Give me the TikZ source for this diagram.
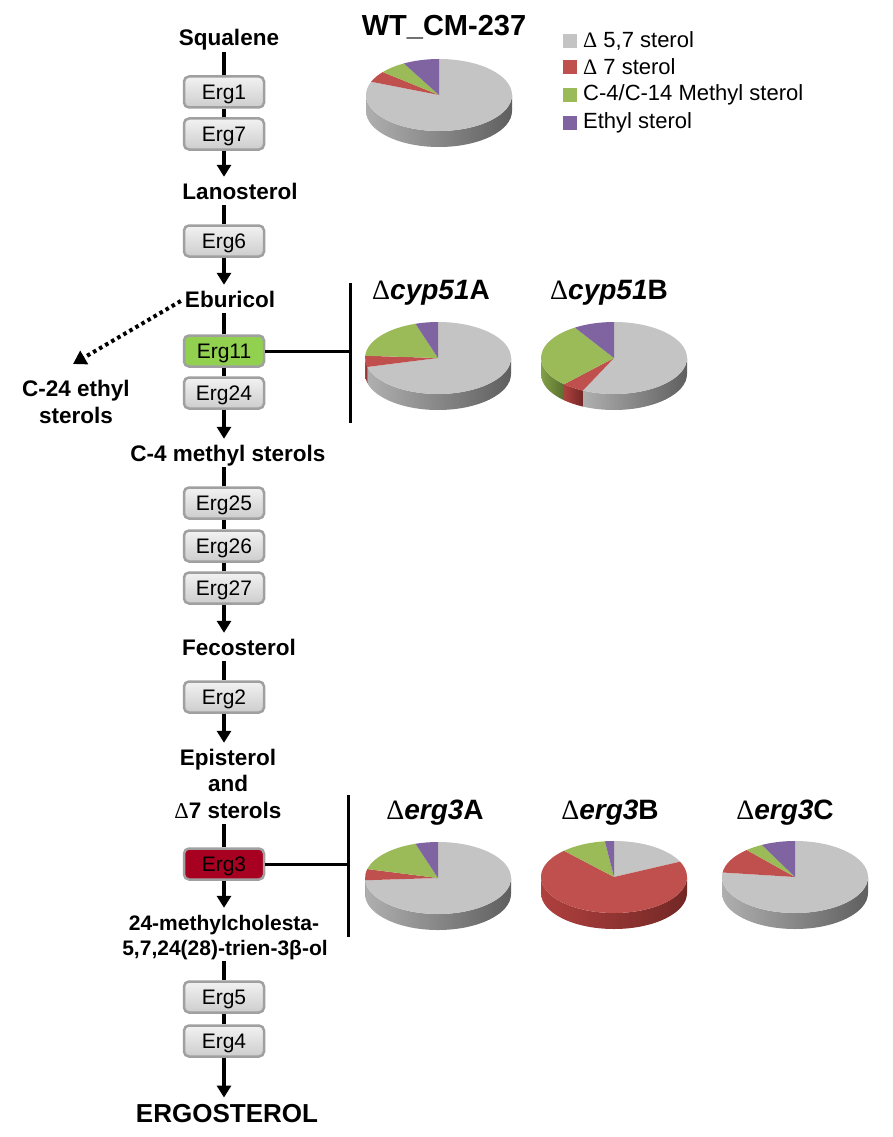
\documentclass[tikz,border=0pt]{standalone}
\usepackage{fontspec}
\setmainfont{Liberation Sans}
\newfontfamily\dfont{Liberation Serif}
\usetikzlibrary{arrows.meta}
\definecolor{pgray}{RGB}{196,196,196}
\definecolor{pgrayL}{RGB}{175,175,175}
\definecolor{pgrayR}{RGB}{95,95,95}
\definecolor{pred}{RGB}{192,80,77}
\definecolor{predL}{RGB}{175,64,62}
\definecolor{predR}{RGB}{115,40,38}
\definecolor{pgreen}{RGB}{155,187,89}
\definecolor{pgreenL}{RGB}{130,160,70}
\definecolor{pgreenR}{RGB}{90,110,48}
\definecolor{ppurple}{RGB}{128,100,162}
\definecolor{ppurpleL}{RGB}{108,82,138}
\definecolor{ppurpleR}{RGB}{72,56,98}
\definecolor{boxborder}{RGB}{160,160,160}
\definecolor{boxtop}{RGB}{242,242,242}
\definecolor{boxbot}{RGB}{205,205,205}
\definecolor{ergreen}{RGB}{146,208,80}
\definecolor{erred}{RGB}{168,0,32}
\newcommand{\sideseg}[4]{%
  \pgfmathsetmacro\pLo{max(#1,-180)}%
  \pgfmathsetmacro\pHi{min(#2,0)}%
  \ifdim\pLo pt<\pHi pt
    \shade[left color=#3,right color=#4] (\pLo:73pt and 36pt)
      arc[start angle=\pLo,end angle=\pHi,x radius=73pt,y radius=36pt]
      -- ++(0pt,-16pt)
      arc[start angle=\pHi,end angle=\pLo,x radius=73pt,y radius=36pt] -- cycle;
  \fi}
\newcommand{\drawpie}[6]{%
  \begin{scope}[shift={(#1,#2)}]
    \pgfmathsetmacro\aA{90-3.6*#3}%
    \pgfmathsetmacro\aB{\aA-3.6*#4}%
    \pgfmathsetmacro\aC{\aB-3.6*#5}%
    \sideseg{\aA}{90}{pgrayL}{pgrayR}
    \sideseg{\aB}{\aA}{predL}{predR}
    \sideseg{\aC}{\aB}{pgreenL}{pgreenR}
    \sideseg{-270}{\aC}{ppurpleL}{ppurpleR}
    \fill[pgray] (0pt,0pt) -- (90:73pt and 36pt) arc[start angle=90,end angle=\aA,x radius=73pt,y radius=36pt] -- cycle;
    \fill[pred] (0pt,0pt) -- (\aA:73pt and 36pt) arc[start angle=\aA,end angle=\aB,x radius=73pt,y radius=36pt] -- cycle;
    \fill[pgreen] (0pt,0pt) -- (\aB:73pt and 36pt) arc[start angle=\aB,end angle=\aC,x radius=73pt,y radius=36pt] -- cycle;
    \fill[ppurple] (0pt,0pt) -- (\aC:73pt and 36pt) arc[start angle=\aC,end angle=-270,x radius=73pt,y radius=36pt] -- cycle;
  \end{scope}}
\begin{document}
\begin{tikzpicture}[x=1pt,y=-1pt,
  lbl/.style={font=\fontsize{22.5}{27}\selectfont\bfseries, inner xsep=2pt, inner ysep=6pt, text height=16pt, text depth=0pt},
  lbls/.style={lbl, font=\fontsize{21}{25}\selectfont\bfseries},
  erg/.style={draw=boxborder, line width=2.5pt, rounded corners=5pt, top color=boxtop, bottom color=boxbot,
    minimum width=80pt, minimum height=31pt, inner sep=0pt, text height=15pt, text depth=0pt,
    font=\fontsize{21}{25}\selectfont},
  spine/.style={line width=4pt},
  arr/.style={line width=4pt, -{Triangle[width=14pt,length=12pt]}},
  bar/.style={line width=3pt},
  ttl/.style={font=\fontsize{28}{32}\selectfont\bfseries},
  leg/.style={font=\fontsize{22}{26}\selectfont, anchor=west, inner sep=0pt}
]
\useasboundingbox (0,0) rectangle (892,1137);
\fill[white] (0,0) rectangle (892,1137);

% pathway labels
\node[lbl] (squalene) at (229,38) {Squalene};
\node[erg] (erg1) at (224,92) {Erg1};
\node[erg] (erg7) at (224,134) {Erg7};
\node[lbl] (lanosterol) at (240,191) {Lanosterol};
\node[erg] (erg6) at (224,241) {Erg6};
\node[lbl] (eburicol) at (230,299) {Eburicol};
\node[erg, top color=ergreen, bottom color=ergreen] (erg11) at (224,351) {Erg11};
\node[erg] (erg24) at (224,393) {Erg24};
\node[lbl] (c4) at (228,453) {C-4 methyl sterols};
\node[erg] (erg25) at (224,503) {Erg25};
\node[erg] (erg26) at (224,546) {Erg26};
\node[erg] (erg27) at (224,588) {Erg27};
\node[lbl] (fecosterol) at (239,647) {Fecosterol};
\node[erg] (erg2) at (224,697) {Erg2};
\node[lbl] (episterol) at (228,757) {Episterol};
\node[lbl] (and) at (228,783) {and};
\node[lbl] (d7) at (228,810) {{\dfont\mdseries Δ}7 sterols};
\node[erg, top color=erred, bottom color=erred] (erg3) at (224,864) {Erg3};
\node[lbls] (m1) at (224,922) {24-methylcholesta-};
\node[lbls] (m2) at (225,947) {5,7,24(28)-trien-3β-ol};
\node[erg] (erg5) at (224,997) {Erg5};
\node[erg] (erg4) at (224,1041) {Erg4};
\node[lbl, font=\fontsize{26}{30}\selectfont\bfseries, text height=18.6pt] (ergosterol) at (227,1113) {ERGOSTEROL};
\node[font=\fontsize{22.5}{27}\selectfont\bfseries, align=center, inner sep=0pt] (c24) at (76,402) {C-24 ethyl\\sterols};
\coordinate (c24tip) at (73,364);

% spine connectors
\draw[spine] (erg1.north |- squalene.south) -- (erg1.north);
\draw[spine] (erg1.south) -- (erg7.north);
\draw[arr] (erg7.south) -- (erg7.south |- lanosterol.north);
\draw[spine] (erg6.north |- lanosterol.south) -- (erg6.north);
\draw[arr] (erg6.south) -- (erg6.south |- eburicol.north);
\draw[spine] (erg11.north |- eburicol.south) -- (erg11.north);
\draw[spine] (erg11.south) -- (erg24.north);
\draw[arr] (erg24.south) -- (erg24.south |- c4.north);
\draw[spine] (erg25.north |- c4.south) -- (erg25.north);
\draw[spine] (erg25.south) -- (erg26.north);
\draw[spine] (erg26.south) -- (erg27.north);
\draw[arr] (erg27.south) -- (erg27.south |- fecosterol.north);
\draw[spine] (erg2.north |- fecosterol.south) -- (erg2.north);
\draw[arr] (erg2.south) -- (erg2.south |- episterol.north);
\draw[spine] (erg3.north |- d7.south) -- (erg3.north);
\draw[arr] (erg3.south) -- (erg3.south |- m1.north);
\draw[spine] (erg5.north |- m2.south) -- (erg5.north);
\draw[spine] (erg5.south) -- (erg4.north);
\draw[arr] (erg4.south) -- (erg4.south |- ergosterol.north);
\draw[line width=4pt, dash pattern=on 3.5pt off 3.5pt, -{Triangle[width=15pt,length=13pt]}] (eburicol.west) ++(-2,2) -- (c24tip);

% inhibition bars
\coordinate (cypjoin) at (350,351);
\coordinate (cyptop) at (350,283);
\coordinate (cypbot) at (350,423);
\draw[bar] (erg11.east) -- (cypjoin);
\draw[bar] (cyptop) -- (cypbot);
\coordinate (ergjoin) at (348,864);
\coordinate (ergtop) at (348,795);
\coordinate (ergbot) at (348,937);
\draw[bar] (erg3.east) -- (ergjoin);
\draw[bar] (ergtop) -- (ergbot);

% pies
\node[ttl, font=\fontsize{29}{33}\selectfont\bfseries] (wt) at (444,27) {WT\_CM-237};
\drawpie{439}{95}{81}{5}{6}{8}
\node[ttl] (tcypA) at (431,293) {{\dfont\mdseries Δ}\textit{cyp51}A};
\drawpie{438}{358}{71}{5}{19}{5}
\node[ttl] (tcypB) at (609,293) {{\dfont\mdseries Δ}\textit{cyp51}B};
\drawpie{614}{358}{57}{5}{29}{9}
\node[ttl] (terA) at (435,813) {{\dfont\mdseries Δ}\textit{erg3}A};
\drawpie{438}{878}{74}{5}{16}{5}
\node[ttl] (terB) at (610,813) {{\dfont\mdseries Δ}\textit{erg3}B};
\drawpie{614}{877}{18}{70}{10}{2}
\node[ttl] (terC) at (785,813) {{\dfont\mdseries Δ}\textit{erg3}C};
\drawpie{795}{877}{77}{11.5}{4}{7.5}

% legend
\fill[pgray] (563,34) rectangle (577,48);
\node[leg] (l1) at (583,41) {{\dfont Δ} 5,7 sterol};
\fill[pred] (563,60) rectangle (577,74);
\node[leg] (l2) at (583,67) {{\dfont Δ} 7 sterol};
\fill[pgreen] (563,88) rectangle (577,102);
\node[leg] (l3) at (583,95) {C-4/C-14 Methyl sterol};
\fill[ppurple] (563,116) rectangle (577,130);
\node[leg] (l4) at (583,123) {Ethyl sterol};
\end{tikzpicture}
\end{document}
